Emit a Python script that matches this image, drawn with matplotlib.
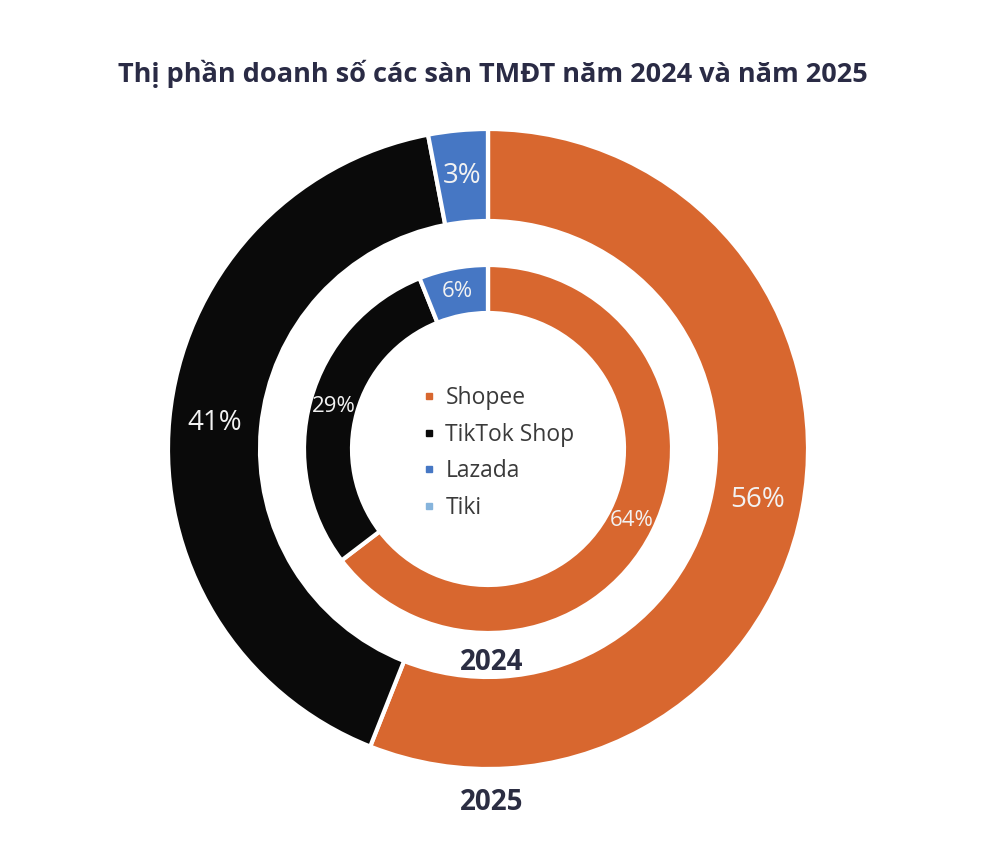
import matplotlib.pyplot as plt
from matplotlib.lines import Line2D

plt.rcParams['font.family'] = ['Open Sans', 'DejaVu Sans']

# Dữ liệu thị phần (%)
platforms = ['Shopee', 'TikTok Shop', 'Lazada', 'Tiki']
share_2025 = [56, 41, 3, 0]
share_2024 = [64, 29, 6, 0]
colors = ['#D8672F', '#0a0a0a', '#4677C4', '#86B4DC']

title = 'Thị phần doanh số các sàn TMĐT năm 2024 và năm 2025'


def pct_label(p):
    # n'afficher que les parts visibles
    return f'{p:.0f}%' if p >= 1 else ''


fig = plt.figure(figsize=(10, 8.58), dpi=100)
ax = fig.add_axes([0, 0, 1, 1])

wedge_style = dict(edgecolor='white', linewidth=3)

# Vòng ngoài : 2025
ax.pie(share_2025, colors=colors, radius=320, startangle=90,
       counterclock=False, autopct=pct_label, pctdistance=0.857,
       wedgeprops=dict(width=92, **wedge_style),
       textprops=dict(color='#f2f2f2', fontsize=20), frame=True)

# Vòng trong : 2024
ax.pie(share_2024, colors=colors, radius=184, startangle=90,
       counterclock=False, autopct=lambda p: pct_label(p * 0.99),
       pctdistance=0.87,
       wedgeprops=dict(width=48, **wedge_style),
       textprops=dict(color='#f2f2f2', fontsize=16), frame=True)

ax.set_xlim(-488, 512)
ax.set_ylim(-409, 449)
ax.set_aspect('equal')
ax.axis('off')

# Năm
ax.text(4, -213, '2024', ha='center', va='center', fontsize=20,
        fontweight='bold', color='#2b2d42')
ax.text(4, -353, '2025', ha='center', va='center', fontsize=20,
        fontweight='bold', color='#2b2d42')

# Chú thích au centre
handles = [Line2D([], [], marker='s', linestyle='', markersize=5,
                  color=c) for c in colors]
ax.legend(handles, platforms, loc='upper left', bbox_to_anchor=(0.403, 0.574),
          frameon=False, fontsize=16.5, handlelength=0.5, handletextpad=0.45,
          labelspacing=0.55, labelcolor='#3a3a3a')

fig.text(0.493, 1 - 74 / 858, title, ha='center', va='center', fontsize=19.5,
         fontweight='bold', color='#2a2b45')

fig.savefig('out.png', dpi=100, facecolor='white')
